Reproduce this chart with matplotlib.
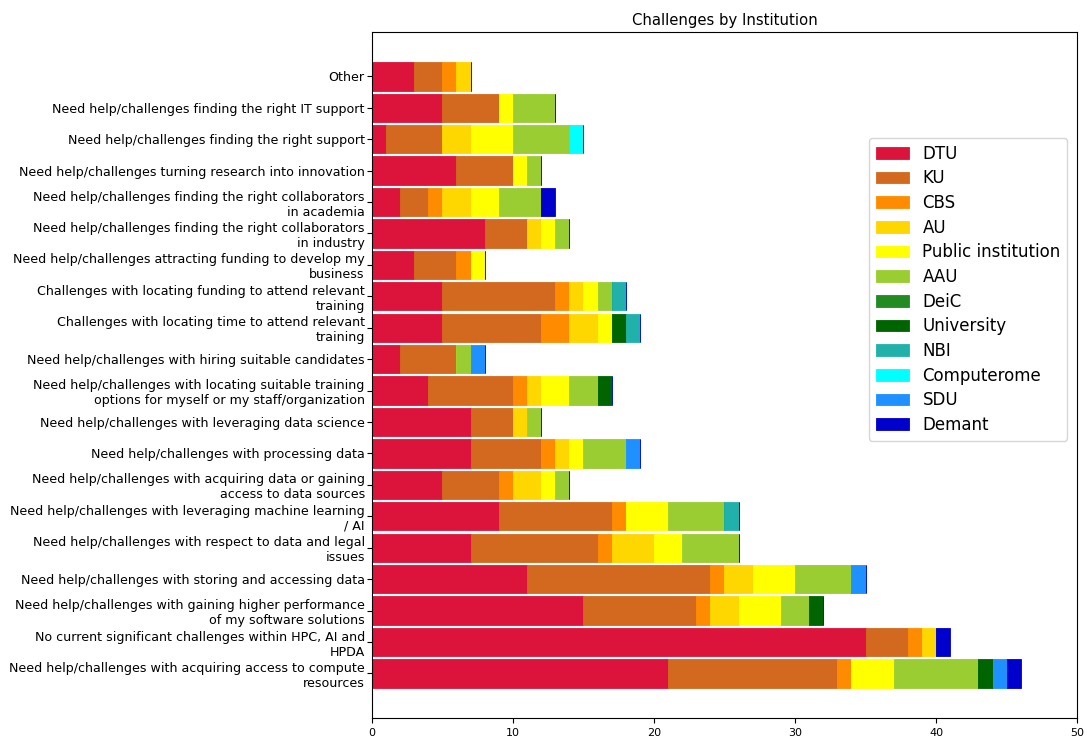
import matplotlib
matplotlib.use("Agg")
import matplotlib.pyplot as plt
import numpy as np

categories = [
    "Need help/challenges with acquiring access to compute\nresources",
    "No current significant challenges within HPC, AI and\nHPDA",
    "Need help/challenges with gaining higher performance\nof my software solutions",
    "Need help/challenges with storing and accessing data",
    "Need help/challenges with respect to data and legal\nissues",
    "Need help/challenges with leveraging machine learning\n/ AI",
    "Need help/challenges with acquiring data or gaining\naccess to data sources",
    "Need help/challenges with processing data",
    "Need help/challenges with leveraging data science",
    "Need help/challenges with locating suitable training\noptions for myself or my staff/organization",
    "Need help/challenges with hiring suitable candidates",
    "Challenges with locating time to attend relevant\ntraining",
    "Challenges with locating funding to attend relevant\ntraining",
    "Need help/challenges attracting funding to develop my\nbusiness",
    "Need help/challenges finding the right collaborators\nin industry",
    "Need help/challenges finding the right collaborators\nin academia",
    "Need help/challenges turning research into innovation",
    "Need help/challenges finding the right support",
    "Need help/challenges finding the right IT support",
    "Other",
]

institutions = ["DTU", "KU", "CBS", "AU", "Public institution", "AAU",
                "DeiC", "University", "NBI", "Computerome", "SDU", "Demant"]

colors = ["crimson", "chocolate", "darkorange", "gold", "yellow", "yellowgreen",
          "forestgreen", "darkgreen", "lightseagreen", "cyan", "dodgerblue", "mediumblue"]

# counts per institution, one entry per category (same order as categories)
DTU         = [21, 35, 15, 11, 7, 9, 5, 7, 7, 4, 2, 5, 5, 3, 8, 2, 6, 1, 5, 3]
KU          = [12, 3, 8, 13, 9, 8, 4, 5, 3, 6, 4, 7, 8, 3, 3, 2, 4, 4, 4, 2]
CBS         = [1, 1, 1, 1, 1, 1, 1, 1, 0, 1, 0, 2, 1, 1, 0, 1, 0, 0, 0, 1]
AU          = [0, 1, 2, 2, 3, 0, 2, 1, 1, 1, 0, 2, 1, 0, 1, 2, 0, 2, 0, 1]
Public      = [3, 0, 3, 3, 2, 3, 1, 1, 0, 2, 0, 1, 1, 1, 1, 2, 1, 3, 1, 0]
AAU         = [6, 0, 2, 4, 4, 4, 1, 3, 1, 2, 1, 0, 1, 0, 1, 3, 1, 4, 3, 0]
DeiC        = [0, 0, 0, 0, 0, 0, 0, 0, 0, 0, 0, 0, 0, 0, 0, 0, 0, 0, 0, 0]
University  = [1, 0, 1, 0, 0, 0, 0, 0, 0, 1, 0, 1, 0, 0, 0, 0, 0, 0, 0, 0]
NBI         = [0, 0, 0, 0, 0, 1, 0, 0, 0, 0, 0, 1, 1, 0, 0, 0, 0, 0, 0, 0]
Computerome = [0, 0, 0, 0, 0, 0, 0, 0, 0, 0, 0, 0, 0, 0, 0, 0, 0, 1, 0, 0]
SDU         = [1, 0, 0, 1, 0, 0, 0, 1, 0, 0, 1, 0, 0, 0, 0, 0, 0, 0, 0, 0]
Demant      = [1, 1, 0, 0, 0, 0, 0, 0, 0, 0, 0, 0, 0, 0, 0, 1, 0, 0, 0, 0]

series = [DTU, KU, CBS, AU, Public, AAU, DeiC, University, NBI, Computerome, SDU, Demant]

fig = plt.figure(figsize=(10.87, 7.38), dpi=100)
ax = fig.add_axes([0.342, 0.027, 0.649, 0.930])

y = np.arange(len(categories))
left = np.zeros(len(categories))
for name, vals, col in zip(institutions, series, colors):
    vals = np.array(vals, dtype=float)
    ax.barh(y, vals, left=left, height=0.9, color=col, edgecolor=col,
            linewidth=0.6, label=name)
    left += vals

ax.set_yticks(y)
ax.set_yticklabels(categories, fontsize=9.1)
ax.tick_params(axis="y", pad=1.5)
ax.set_ylim(-1.42, 20.42)
ax.set_xlim(0, 50)
ax.tick_params(axis="x", labelsize=8)
ax.set_title("Challenges by Institution", fontsize=10.7, pad=4.5)

ax.legend(loc="upper right", bbox_to_anchor=(0.986, 0.845), borderaxespad=0,
          fontsize=12, labelspacing=0.4)

fig.savefig("out.png", dpi=100)
